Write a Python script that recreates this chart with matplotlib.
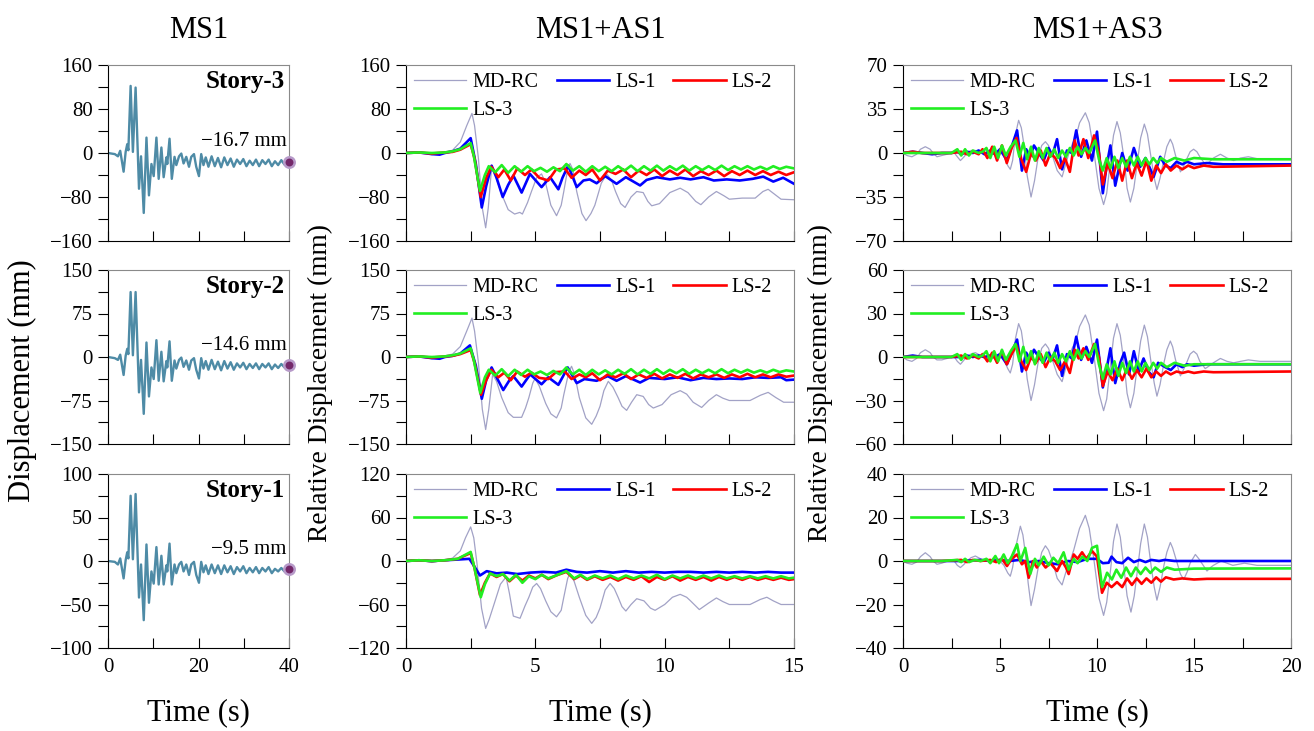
import matplotlib
matplotlib.use('Agg')
import matplotlib.pyplot as plt
from matplotlib.ticker import MultipleLocator

plt.rcParams['font.family'] = ['Liberation Serif', 'DejaVu Serif']

# ---------------- data (time [s], displacement [mm]) ----------------
ms1_s3 = [(0,0),(1.5,-2),(2.2,-6),(2.7,4),(3.45,-34),(3.9,2),(4.25,16),(4.5,5),(5.0,122),(5.5,2),(6.1,119),
          (6.85,-65),(7.3,-6),(7.9,-109),(8.5,28),(9.05,-77),(9.6,-20),(10.1,-42),(10.7,28),(11.2,-47),(11.8,10),
          (12.3,-44),(12.9,-8),(13.1,-20),(13.6,26),(14.1,-47),(14.7,-7),(15.1,-22),(15.7,-6),(16.2,-1),(16.7,-19),
          (17.3,-7),(17.9,-25),(18.4,-7),(19.0,-2),(19.5,-25),(20.1,-42),(20.6,-2),(21.1,-22),(21.6,-8),(22.2,-25),
          (22.9,-6),(23.6,-24),(24.3,-9),(25.0,-26),(25.7,-8),(26.4,-22),(27.1,-10),(27.8,-25),(28.5,-12),(29.2,-20),
          (29.9,-11),(30.6,-24),(31.3,-14),(32.0,-22),(32.7,-12),(33.4,-24),(34.1,-13),(34.8,-20),(35.5,-12),
          (36.2,-24),(36.9,-15),(37.6,-22),(38.3,-13),(39.0,-21),(39.5,-15),(40,-16.7)]
ms1_s2 = [(0,0),(1.5,-2),(2.2,-5),(2.7,4),(3.45,-31),(3.9,2),(4.25,14),(4.5,5),(5.0,112),(5.5,3),(6.1,112),
          (6.85,-61),(7.3,-5),(7.9,-98),(8.5,25),(9.05,-68),(9.6,-18),(10.1,-38),(10.7,29),(11.2,-41),(11.8,9),
          (12.3,-42),(12.9,-7),(13.1,-18),(13.6,27),(14.1,-41),(14.7,-6),(15.1,-20),(15.7,-5),(16.2,-1),(16.7,-17),
          (17.3,-6),(17.9,-22),(18.4,-6),(19.0,-2),(19.5,-22),(20.1,-37),(20.6,-2),(21.1,-20),(21.6,-7),(22.2,-22),
          (22.9,-5),(23.6,-21),(24.3,-8),(25.0,-23),(25.7,-7),(26.4,-20),(27.1,-9),(27.8,-22),(28.5,-11),(29.2,-18),
          (29.9,-10),(30.6,-21),(31.3,-12),(32.0,-19),(32.7,-11),(33.4,-21),(34.1,-12),(34.8,-18),(35.5,-11),
          (36.2,-21),(36.9,-13),(37.6,-19),(38.3,-12),(39.0,-18),(39.5,-13),(40,-14.6)]
ms1_s1 = [(0,0),(1.5,-1),(2.2,-4),(2.7,3),(3.45,-20),(3.9,1),(4.25,10),(4.5,3),(5.0,75),(5.5,2),(6.1,77),
          (6.85,-42),(7.3,-4),(7.9,-68),(8.5,19),(9.05,-48),(9.6,-12),(10.1,-26),(10.7,16),(11.2,-27),(11.8,6),
          (12.3,-27),(12.9,-5),(13.1,-12),(13.6,20),(14.1,-27),(14.7,-4),(15.1,-14),(15.7,-4),(16.2,-1),(16.7,-12),
          (17.3,-4),(17.9,-16),(18.4,-4),(19.0,-1),(19.5,-16),(20.1,-25),(20.6,-1),(21.1,-13),(21.6,-5),(22.2,-15),
          (22.9,-4),(23.6,-14),(24.3,-5),(25.0,-15),(25.7,-5),(26.4,-13),(27.1,-6),(27.8,-15),(28.5,-7),(29.2,-12),
          (29.9,-6),(30.6,-14),(31.3,-8),(32.0,-13),(32.7,-7),(33.4,-14),(34.1,-8),(34.8,-12),(35.5,-7),
          (36.2,-14),(36.9,-9),(37.6,-12),(38.3,-8),(39.0,-12),(39.5,-8),(40,-9.5)]

# MS1+AS1
mdrc_a1_s3 = [(0,0),(0.5,2),(1.0,-3),(1.5,2),(1.8,5),(2.1,20),(2.35,50),(2.55,72),(2.65,50),(2.8,-10),(2.95,-100),
              (3.08,-136),(3.18,-100),(3.31,-26),(3.45,-40),(3.7,-75),(3.95,-103),(4.2,-111),(4.4,-108),(4.5,-111),
              (4.7,-90),(4.85,-70),(5.05,-45),(5.24,-38),(5.4,-55),(5.6,-95),(5.82,-114),(6.0,-95),(6.1,-70),
              (6.25,-30),(6.34,-19),(6.45,-30),(6.6,-70),(6.8,-110),(6.96,-123),(7.15,-110),(7.3,-95),(7.55,-55),
              (7.76,-38),(7.95,-50),(8.1,-70),(8.3,-92),(8.47,-99),(8.7,-80),(8.92,-70),(9.17,-72),(9.35,-88),
              (9.5,-96),(9.8,-92),(10.2,-72),(10.6,-64),(10.9,-72),(11.2,-88),(11.4,-94),(11.7,-80),(12.0,-70),
              (12.3,-78),(12.5,-84),(13.0,-82),(13.5,-82),(13.8,-70),(14.0,-66),(14.25,-75),(14.5,-84),(15.0,-85)]
ls1_a1_s3 = [(0,0),(0.5,1),(1.0,-2),(1.3,-3),(1.5,0),(1.8,3),(2.1,8),(2.5,27),(2.7,-20),(2.93,-99),(3.1,-60),
             (3.31,-23),(3.5,-45),(3.74,-80),(3.95,-58),(4.15,-41),(4.47,-72),(4.79,-38),(5.24,-62),(5.57,-44),
             (5.89,-66),(6.05,-45),(6.27,-23),(6.6,-62),(6.86,-50),(7.1,-48),(7.37,-55),(7.7,-42),(8.14,-56),
             (8.5,-44),(9.05,-59),(9.3,-49),(9.7,-44),(10.2,-48),(10.6,-45),(11.0,-48),(11.5,-44),(11.9,-50),
             (12.4,-48),(12.9,-50),(13.4,-47),(13.81,-43),(14.2,-52),(14.58,-45),(15.0,-56)]
ls2_a1_s3 = [(0,0),(0.5,1),(1.0,-1),(1.5,1),(1.8,2),(2.1,6),(2.5,16),(2.65,-10),(2.89,-80),(3.1,-45),(3.3,-25),
             (3.57,-44),(3.8,-30),(4.05,-50),(4.3,-28),(4.6,-40),(4.85,-30),(5.15,-45),(5.5,-50),(5.8,-30),
             (6.14,-28),(6.4,-45),(6.7,-32),(6.95,-40),(7.2,-30),(7.5,-50),(7.8,-32),(8.1,-38),(8.4,-30),(8.7,-44),
             (9.0,-32),(9.3,-40),(9.6,-30),(9.9,-42),(10.2,-32),(10.5,-40),(10.8,-30),(11.1,-42),(11.4,-33),
             (11.7,-40),(12.0,-32),(12.3,-42),(12.6,-33),(12.9,-40),(13.2,-32),(13.5,-40),(13.8,-33),(14.1,-40),
             (14.4,-34),(14.7,-40),(15.0,-35)]
ls3_a1_s3 = [(0,0),(0.5,1),(1.0,0),(1.5,1),(1.8,3),(2.1,7),(2.5,18),(2.62,-5),(2.86,-69),(3.05,-40),(3.2,-24),
             (3.45,-35),(3.7,-22),(3.95,-36),(4.2,-24),(4.45,-34),(4.7,-24),(4.95,-33),(5.2,-27),(5.45,-34),
             (5.7,-26),(5.95,-33),(6.2,-20),(6.45,-32),(6.7,-24),(6.95,-34),(7.2,-24),(7.45,-33),(7.7,-25),
             (7.95,-33),(8.2,-24),(8.45,-32),(8.7,-23),(8.95,-33),(9.2,-24),(9.45,-32),(9.7,-23),(9.95,-32),
             (10.2,-24),(10.45,-31),(10.7,-23),(10.95,-32),(11.2,-24),(11.45,-31),(11.7,-24),(11.95,-31),
             (12.2,-23),(12.45,-31),(12.7,-24),(12.95,-30),(13.2,-24),(13.45,-30),(13.7,-25),(13.95,-30),
             (14.2,-24),(14.45,-29),(14.7,-25),(15.0,-28)]

mdrc_a1_s2 = [(0,0),(0.5,1),(1.0,-3),(1.5,2),(1.8,5),(2.1,18),(2.35,45),(2.55,67),(2.65,45),(2.8,-10),(2.95,-90),
              (3.08,-125),(3.2,-90),(3.35,-30),(3.5,-42),(3.7,-70),(3.95,-96),(4.15,-104),(4.47,-104),(4.62,-88),
              (4.75,-70),(4.9,-45),(4.99,-37),(5.15,-50),(5.4,-80),(5.6,-98),(5.82,-105),(6.0,-88),(6.1,-65),
              (6.3,-25),(6.4,-16),(6.52,-30),(6.7,-70),(6.95,-105),(7.18,-116),(7.35,-102),(7.5,-85),(7.65,-58),
              (7.82,-42),(8.0,-52),(8.2,-70),(8.35,-85),(8.53,-92),(8.72,-78),(8.92,-65),(9.17,-68),(9.38,-82),
              (9.56,-88),(9.9,-82),(10.25,-65),(10.6,-58),(10.85,-64),(11.1,-78),(11.43,-87),(11.7,-75),(12.0,-65),
              (12.25,-71),(12.5,-75),(13.3,-75),(13.7,-66),(14.0,-61),(14.3,-70),(14.6,-78),(15.0,-78)]
ls1_a1_s2 = [(0,0),(0.5,1),(1.0,-2),(1.3,-3),(1.5,0),(1.8,2),(2.1,6),(2.47,20),(2.7,-15),(2.93,-72),(3.1,-40),
             (3.31,-18),(3.5,-35),(3.76,-57),(4.0,-40),(4.15,-33),(4.47,-51),(4.8,-30),(5.24,-47),(5.5,-35),
             (5.89,-48),(6.05,-35),(6.25,-18),(6.6,-45),(6.9,-38),(7.37,-41),(7.8,-33),(8.14,-41),(8.5,-33),
             (9.05,-44),(9.4,-36),(10.0,-38),(10.5,-35),(11.0,-40),(11.5,-36),(12.0,-38),(12.5,-37),(13.0,-38),
             (13.5,-35),(14.0,-36),(14.5,-35),(14.7,-40),(15.0,-39)]
ls2_a1_s2 = [(0,0),(0.5,1),(1.0,-1),(1.5,1),(1.8,2),(2.1,5),(2.5,12),(2.65,-10),(2.9,-65),(3.1,-40),(3.3,-22),
             (3.57,-35),(3.8,-27),(4.05,-40),(4.3,-25),(4.6,-34),(4.85,-27),(5.15,-36),(5.5,-38),(5.8,-26),
             (6.14,-25),(6.4,-38),(6.7,-30),(6.95,-35),(7.2,-28),(7.5,-40),(7.8,-30),(8.1,-35),(8.4,-28),(8.7,-38),
             (9.0,-30),(9.3,-36),(9.6,-29),(9.9,-37),(10.2,-30),(10.5,-36),(10.8,-29),(11.1,-37),(11.4,-30),
             (11.7,-35),(12.0,-30),(12.3,-36),(12.6,-30),(12.9,-35),(13.2,-29),(13.5,-35),(13.8,-30),(14.1,-35),
             (14.4,-30),(14.7,-34),(15.0,-32)]
ls3_a1_s2 = [(0,0),(0.5,1),(1.0,0),(1.5,1),(1.8,3),(2.1,6),(2.5,15),(2.62,-5),(2.87,-62),(3.05,-35),(3.2,-22),
             (3.45,-32),(3.7,-21),(3.95,-33),(4.2,-22),(4.45,-31),(4.7,-22),(4.95,-30),(5.2,-25),(5.45,-31),
             (5.7,-24),(5.95,-30),(6.2,-18),(6.45,-30),(6.7,-22),(6.95,-31),(7.2,-22),(7.45,-30),(7.7,-23),
             (7.95,-30),(8.2,-22),(8.45,-29),(8.7,-21),(8.95,-30),(9.2,-22),(9.45,-29),(9.7,-21),(9.95,-29),
             (10.2,-22),(10.45,-28),(10.7,-21),(10.95,-29),(11.2,-22),(11.45,-28),(11.7,-22),(11.95,-28),
             (12.2,-21),(12.45,-28),(12.7,-22),(12.95,-27),(13.2,-22),(13.45,-27),(13.7,-23),(13.95,-27),
             (14.2,-22),(14.45,-26),(14.7,-23),(15.0,-25)]

mdrc_a1_s1 = [(0,0),(0.5,1),(1.0,-2),(1.5,1),(1.8,4),(2.1,14),(2.3,32),(2.5,47),(2.62,32),(2.75,-5),(2.92,-65),
              (3.08,-93),(3.22,-80),(3.4,-60),(3.65,-32),(3.87,-22),(4.0,-45),(4.15,-76),(4.41,-79),(4.6,-62),
              (4.75,-50),(4.9,-36),(5.05,-31),(5.2,-38),(5.4,-55),(5.6,-70),(5.82,-77),(6.0,-68),(6.1,-50),
              (6.25,-24),(6.34,-17),(6.5,-28),(6.7,-50),(6.95,-75),(7.18,-86),(7.35,-78),(7.5,-65),(7.7,-40),
              (7.89,-31),(8.05,-38),(8.2,-50),(8.35,-63),(8.5,-69),(8.7,-60),(8.92,-52),(9.2,-55),(9.45,-65),
              (9.63,-68),(10.0,-60),(10.3,-50),(10.6,-46),(10.85,-50),(11.0,-55),(11.34,-67),(11.7,-58),(12.0,-51),
              (12.25,-56),(12.5,-60),(13.3,-60),(13.7,-53),(13.95,-50),(14.2,-55),(14.5,-60),(15.0,-60)]
ls1_a1_s1 = [(0,0),(0.5,1),(1.0,0),(1.5,1),(2.0,2),(2.45,3),(2.65,-8),(2.86,-20),(3.12,-14),(3.5,-17),(3.9,-16),
             (4.3,-18),(4.8,-16),(5.3,-15),(5.8,-16),(6.2,-12),(6.6,-15),(7.0,-16),(7.5,-14),(8.0,-16),(8.5,-14),
             (9.0,-16),(9.5,-15),(10.0,-16),(10.5,-15),(11.0,-15),(11.5,-16),(12.0,-15),(12.5,-16),(13.0,-15),
             (13.5,-16),(14.0,-15),(14.5,-16),(15.0,-16)]
ls2_a1_s1 = [(0,0),(0.5,1),(1.0,0),(1.5,1),(2.0,3),(2.5,11),(2.65,-10),(2.86,-47),(3.05,-30),(3.25,-17),(3.5,-22),
             (3.75,-18),(4.0,-28),(4.25,-20),(4.5,-27),(4.75,-20),(5.0,-24),(5.25,-19),(5.5,-25),(5.8,-20),
             (6.2,-15),(6.5,-25),(6.75,-20),(7.0,-26),(7.3,-21),(7.6,-26),(7.9,-22),(8.2,-27),(8.5,-22),(8.8,-26),
             (9.1,-21),(9.4,-29),(9.7,-22),(10.0,-26),(10.3,-21),(10.6,-27),(10.9,-22),(11.2,-26),(11.5,-22),
             (11.8,-27),(12.1,-22),(12.4,-26),(12.7,-22),(13.0,-26),(13.3,-22),(13.6,-26),(13.9,-23),(14.2,-26),
             (14.5,-23),(14.8,-26),(15.0,-25)]
ls3_a1_s1 = [(0,0),(0.5,1),(1.0,0),(1.5,1),(2.0,3),(2.5,12.5),(2.65,-10),(2.89,-50),(3.05,-32),(3.25,-17),
             (3.5,-21),(3.75,-18),(4.0,-27),(4.25,-19),(4.5,-30),(4.75,-21),(5.0,-25),(5.25,-19),(5.5,-24),
             (5.8,-20),(6.2,-14),(6.5,-24),(6.75,-19),(7.0,-25),(7.3,-20),(7.6,-24),(7.9,-20),(8.2,-25),(8.5,-20),
             (8.8,-24),(9.1,-20),(9.4,-24),(9.7,-19),(10.0,-25),(10.3,-20),(10.6,-24),(10.9,-20),(11.2,-24),
             (11.5,-20),(11.8,-24),(12.1,-20),(12.4,-24),(12.7,-21),(13.0,-24),(13.3,-21),(13.6,-24),(13.9,-21),
             (14.2,-24),(14.5,-21),(14.8,-24),(15.0,-23)]

# MS1+AS3
mdrc_a3_s3 = [(0,0),(0.2,-2),(0.46,-3),(0.7,-1),(0.9,3),(1.15,5),(1.4,3),(1.55,0),(1.75,-3),(2.0,-2),(2.27,-1),
              (2.6,1),(2.8,-3),(2.96,-6),(3.15,-3),(3.3,0),(3.5,2),(3.73,2),(4.0,0.5),(4.2,-1),(4.67,-1),(5.0,1),
              (5.2,-2),(5.4,-10),(5.53,-13),(5.65,-6),(5.8,15),(5.96,26),(6.1,20),(6.25,5),(6.4,-18),(6.6,-35),
              (6.78,-22),(6.95,-5),(7.15,6),(7.34,9),(7.5,6),(7.7,-2),(7.95,-14),(8.2,-19),(8.4,-8),(8.6,2),
              (8.75,8),(8.9,12),(9.1,24),(9.4,32),(9.6,24),(9.85,0),(10.1,-28),(10.34,-41),(10.5,-32),(10.7,-5),
              (10.85,14),(11.03,25),(11.2,16),(11.4,-5),(11.55,-28),(11.72,-39),(11.9,-28),(12.1,-5),(12.25,12),
              (12.44,23),(12.6,15),(12.8,-5),(12.95,-20),(13.09,-29),(13.25,-20),(13.45,-5),(13.6,5),(13.78,11),
              (13.9,7),(14.05,-2),(14.3,-15),(14.45,-11),(14.65,-4),(14.8,1),(14.98,3),(15.15,1),(15.3,-3),
              (15.58,-9),(15.8,-7),(16.0,-4),(16.36,-1),(16.7,-4),(17.04,-6),(17.4,-4),(17.8,-3),(18.4,-5),(20.0,-5)]
ls1_a3_s3 = [(0,0),(0.5,1),(1.0,0),(1.5,-1),(2.0,0),(2.5,0),(2.8,1),(3.0,-1),(3.3,1),(3.6,0),(3.9,2),(4.2,-1),
             (4.5,2),(4.75,-1),(5.0,3),(5.36,-6),(5.6,5),(5.88,18),(6.13,-14),(6.35,3),(6.55,-3),(6.75,6),(7.0,0),
             (7.25,-6),(7.5,4),(7.7,-2),(7.94,11),(8.2,-13),(8.45,2),(8.7,0),(8.93,18),(9.18,-3),(9.45,10),
             (9.74,-6),(10.0,17),(10.3,-32),(10.5,-10),(10.69,6),(10.94,-26),(11.3,0),(11.58,-14),(11.9,4),
             (12.23,-11),(12.5,-4),(12.92,-19),(13.26,-3),(13.52,-10),(13.8,-12),(14.1,-7),(14.4,-9),(14.64,-7),
             (15.0,-9),(15.67,-8),(16.5,-9),(20.0,-9)]
ls2_a3_s3 = [(0,0),(0.5,1),(1.0,0),(1.5,0),(2.0,0),(2.5,0),(3.0,1),(3.3,-1),(3.6,1),(3.9,-1),(4.1,3),(4.35,-4),
             (4.6,5),(4.85,-6),(5.1,6),(5.35,-8),(5.6,4),(5.85,12),(6.1,-5),(6.35,-15),(6.6,0),(6.85,-6),(7.1,2),
             (7.35,-10),(7.6,0),(7.85,-4),(8.1,-12),(8.35,-4),(8.6,-15),(8.85,10),(9.05,-2),(9.3,11),(9.55,-4),
             (9.85,14),(10.1,0),(10.3,-25),(10.55,-8),(10.8,-20),(11.05,-6),(11.3,-22),(11.55,-6),(11.8,-20),
             (12.05,-8),(12.3,-18),(12.55,-6),(12.8,-22),(13.05,-10),(13.3,-16),(13.55,-9),(13.8,-14),(14.1,-10),
             (14.4,-13),(14.7,-10),(15.0,-12),(15.5,-10),(16.0,-11),(20.0,-10)]
ls3_a3_s3 = [(0,0),(0.5,0),(1.0,0),(1.5,0),(2.0,0),(2.5,0),(2.8,3),(3.0,-2),(3.2,3),(3.4,-2),(3.6,2),(3.9,0),
             (4.1,1),(4.3,4),(4.5,-4),(4.7,5),(4.9,-4),(5.1,6),(5.3,-2),(5.55,5),(5.8,10),(6.0,-3),(6.2,8),
             (6.4,-5),(6.6,5),(6.8,-6),(7.0,4),(7.2,-4),(7.4,4),(7.6,-3),(7.8,3),(8.0,-4),(8.2,2),(8.4,-3),
             (8.6,4),(8.8,-2),(9.0,5),(9.2,-1),(9.4,4),(9.6,0),(9.9,10),(10.1,-5),(10.3,-14),(10.5,-4),(10.7,-12),
             (10.9,-3),(11.1,-12),(11.3,-4),(11.5,-11),(11.7,-3),(11.9,-10),(12.1,-3),(12.3,-10),(12.5,-4),
             (12.7,-9),(12.9,-4),(13.1,-8),(13.3,-4),(13.6,-7),(14.0,-4),(14.5,-6),(15.0,-4),(16.0,-5),(20.0,-5)]

mdrc_a3_s2 = [(0,0),(0.2,-2),(0.46,-3),(0.7,-1),(0.9,3),(1.15,5),(1.4,3),(1.55,0),(1.75,-2),(2.0,-2),(2.27,-1),
              (2.6,1),(2.8,-3),(2.96,-5),(3.15,-2),(3.3,0),(3.5,2),(3.73,3),(4.0,1),(4.2,-1),(4.67,-1),(5.0,1),
              (5.2,-2),(5.4,-8),(5.53,-11),(5.65,-5),(5.8,13),(5.96,23),(6.1,18),(6.25,4),(6.4,-15),(6.6,-30),
              (6.78,-19),(6.95,-5),(7.15,6),(7.34,9),(7.5,6),(7.7,-2),(7.95,-12),(8.2,-17),(8.4,-7),(8.6,2),
              (8.75,7),(8.9,10),(9.1,21),(9.4,29),(9.6,22),(9.85,0),(10.1,-25),(10.34,-37),(10.5,-29),(10.7,-5),
              (10.85,13),(11.03,23),(11.2,15),(11.4,-5),(11.55,-25),(11.72,-35),(11.9,-25),(12.1,-4),(12.25,11),
              (12.44,22),(12.6,14),(12.8,-5),(12.95,-18),(13.09,-27),(13.25,-19),(13.45,-4),(13.6,5),(13.78,11),
              (13.9,7),(14.05,-2),(14.3,-13),(14.45,-9),(14.65,-3),(14.8,2),(14.98,4),(15.15,2),(15.3,-3),
              (15.58,-8),(15.8,-6),(16.0,-4),(16.36,-1),(16.7,-3),(17.04,-4),(17.4,-3),(17.8,-2),(18.4,-3),(20.0,-3)]
ls1_a3_s2 = [(0,0),(0.5,1),(1.0,0),(1.5,0),(2.0,0),(2.5,0),(3.0,0),(3.3,1),(3.6,0),(3.9,1),(4.2,0),(4.5,1),
             (4.75,0),(5.0,2),(5.36,-5),(5.6,3),(5.88,12),(6.13,-10),(6.35,3),(6.55,-2),(6.75,5),(7.0,0),
             (7.25,-4),(7.5,3),(7.7,-2),(7.94,8),(8.2,-13),(8.45,2),(8.7,-1),(8.93,14),(9.18,-2),(9.45,7),
             (9.74,-4),(10.0,12),(10.3,-21),(10.5,-8),(10.69,6),(10.94,-18),(11.2,-4),(11.4,3),(11.65,-12),
             (11.9,4),(12.15,-10),(12.4,-1),(12.65,-10),(12.92,-14),(13.15,-4),(13.52,-7),(13.8,-9),(14.1,-5),
             (14.4,-7),(14.64,-5),(15.0,-6),(15.67,-5),(16.5,-5),(20.0,-5)]
ls2_a3_s2 = [(0,0),(0.5,0),(1.0,0),(1.5,0),(2.0,0),(2.5,0),(3.0,1),(3.3,-1),(3.6,1),(3.9,-1),(4.1,2),(4.35,-3),
             (4.6,3),(4.85,-4),(5.1,4),(5.35,-5),(5.6,2),(5.85,8),(6.1,-3),(6.35,-9),(6.6,0),(6.85,-4),(7.1,2),
             (7.35,-7),(7.6,0),(7.85,-3),(8.1,-9),(8.35,-3),(8.6,-11),(8.85,5),(9.05,-1),(9.3,6),(9.55,-2),
             (9.85,9),(10.1,0),(10.3,-20),(10.55,-10),(10.8,-16),(11.05,-8),(11.3,-16),(11.55,-8),(11.8,-15),
             (12.05,-9),(12.3,-14),(12.55,-8),(12.8,-14),(13.05,-10),(13.3,-13),(13.55,-10),(13.8,-12),(14.1,-10),
             (14.4,-11),(14.7,-10),(15.0,-11),(15.5,-10),(16.0,-10.5),(20.0,-10)]
ls3_a3_s2 = [(0,0),(0.5,0),(1.0,0),(1.5,0),(2.0,0),(2.5,0),(2.8,2),(3.0,-2),(3.2,2),(3.4,-1),(3.6,2),(3.9,0),
             (4.1,1),(4.3,4),(4.5,-3),(4.7,4),(4.9,-3),(5.1,5),(5.3,-2),(5.55,4),(5.8,9),(6.0,-3),(6.2,7),
             (6.4,-4),(6.6,4),(6.8,-5),(7.0,4),(7.2,-4),(7.4,3),(7.6,-3),(7.8,3),(8.0,-4),(8.2,2),(8.4,-3),
             (8.6,4),(8.8,-2),(9.0,5),(9.2,-1),(9.4,4),(9.6,0),(9.9,9),(10.1,-5),(10.3,-15),(10.5,-5),(10.7,-12),
             (10.9,-3),(11.1,-13),(11.3,-4),(11.5,-11),(11.7,-3),(11.9,-10),(12.1,-3),(12.3,-10),(12.5,-4),
             (12.7,-9),(12.9,-4),(13.1,-8),(13.3,-4),(13.6,-7),(14.0,-4),(14.5,-6),(15.0,-5),(16.0,-5),(20.0,-5)]

mdrc_a3_s1 = [(0,0),(0.2,-1),(0.46,-1.5),(0.7,-0.5),(0.9,2),(1.15,3.8),(1.4,2),(1.55,0),(1.75,-1.5),(2.0,-1),
              (2.3,0),(2.6,0.5),(2.8,-2),(2.96,-3),(3.15,-1.5),(3.3,0),(3.5,1.5),(3.73,2.3),(4.0,1),(4.2,0),
              (4.67,0.5),(5.0,0),(5.2,-2),(5.4,-5.5),(5.53,-7),(5.65,-3),(5.8,6),(6.05,16),(6.18,12),(6.3,4),
              (6.45,-10),(6.6,-20.5),(6.78,-13),(6.95,-4),(7.15,4),(7.34,7),(7.5,5),(7.7,0),(7.95,-8),(8.2,-11),
              (8.4,-5),(8.5,-3),(8.8,5),(9.1,15),(9.4,21),(9.6,15),(9.85,0),(10.1,-17),(10.34,-25),(10.5,-19),
              (10.7,-4),(10.85,9),(11.03,17),(11.2,11),(11.4,-4),(11.55,-16),(11.75,-23.5),(11.92,-16),(12.1,-3),
              (12.25,8),(12.44,17),(12.6,11),(12.8,-3),(12.95,-12),(13.09,-18),(13.25,-12),(13.45,-2),(13.6,4),
              (13.78,8.5),(13.9,6),(14.1,0),(14.3,-6),(14.47,-8.5),(14.65,-5),(14.8,-1),(15.07,3),(15.25,1),
              (15.4,-1),(15.67,-4.6),(15.85,-3),(16.0,-2),(16.4,0),(17.0,-2),(17.6,-1),(18.25,-2),(20.0,-2)]
ls1_a3_s1 = [(0,0),(1.0,0),(2.0,0),(3.0,0),(4.0,0.5),(4.5,0),(5.0,0.5),(5.5,0),(6.0,0.5),(6.5,-0.5),(7.0,0),
             (7.5,-1),(8.0,-1.5),(8.5,0),(9.0,-0.5),(9.5,1),(10.0,1),(10.3,-1),(10.6,-0.8),(10.75,2),(11.0,-0.5),
             (11.3,-1),(11.6,1.5),(11.9,-0.5),(12.2,0.5),(12.5,-0.5),(12.8,0.5),(13.2,0),(13.5,0.5),(14.0,0),
             (15.0,0),(16.0,0),(20.0,0)]
ls2_a3_s1 = [(0,0),(1.0,0),(2.0,0),(3.0,0.5),(3.3,-0.5),(3.6,0.5),(4.0,0),(4.5,0.5),(4.8,-0.5),(5.1,1),
             (5.36,-2.3),(5.6,1),(5.88,3),(6.13,-1.5),(6.3,0),(6.48,-7.7),(6.7,0),(6.9,-3),(7.1,0),(7.35,-3),
             (7.6,-1),(7.94,-4.6),(8.2,0),(8.4,-3),(8.54,-6),(8.8,3),(9.0,1),(9.23,4),(9.45,1),(9.74,4.6),(10.0,2),
             (10.26,-14.6),(10.5,-10),(10.75,-12),(11.03,-9.7),(11.3,-12),(11.55,-8),(11.8,-11),(12.05,-8),
             (12.3,-10.5),(12.55,-8),(12.8,-10),(13.05,-7.5),(13.3,-9.5),(13.55,-7.5),(13.95,-8.5),(14.4,-8),
             (15.0,-8.5),(15.67,-8.2),(20.0,-8.2)]
ls3_a3_s1 = [(0,0),(1.0,0),(2.0,0),(2.8,0.5),(3.0,-0.5),(3.2,1),(3.4,-0.5),(3.7,0.5),(4.0,0),(4.3,1),(4.5,-1),
             (4.76,2.3),(4.95,-1),(5.19,3),(5.4,-1),(5.6,2),(5.88,7.7),(6.05,0),(6.3,6),(6.56,-6),(6.8,1),(7.0,-2),
             (7.25,2),(7.5,-2),(7.75,1.5),(8.0,-1),(8.28,4),(8.54,-4),(8.8,1),(9.0,-1),(9.25,2),(9.5,0),(9.74,6),
             (10.0,7),(10.26,-12),(10.52,-5.4),(10.77,-8.5),(11.0,-4),(11.25,-7.7),(11.5,-3),(11.75,-7),(12.0,-3),
             (12.25,-6),(12.5,-3),(12.75,-5.5),(13.0,-3),(13.3,-5),(13.6,-3),(14.0,-4),(15.0,-3.5),(20.0,-3.4)]

col_titles = ['MS1', 'MS1+AS1', 'MS1+AS3']
story_labels = ['Story-3', 'Story-2', 'Story-1']
ms1_series = [ms1_s3, ms1_s2, ms1_s1]
ms1_final = [-16.7, -14.6, -9.5]
as1_series = [[mdrc_a1_s3, ls1_a1_s3, ls2_a1_s3, ls3_a1_s3],
              [mdrc_a1_s2, ls1_a1_s2, ls2_a1_s2, ls3_a1_s2],
              [mdrc_a1_s1, ls1_a1_s1, ls2_a1_s1, ls3_a1_s1]]
as3_series = [[mdrc_a3_s3, ls1_a3_s3, ls2_a3_s3, ls3_a3_s3],
              [mdrc_a3_s2, ls1_a3_s2, ls2_a3_s2, ls3_a3_s2],
              [mdrc_a3_s1, ls1_a3_s1, ls2_a3_s1, ls3_a3_s1]]
series_names = ['MD-RC', 'LS-1', 'LS-2', 'LS-3']
ms1_ylims = [160, 150, 100]
as1_ylims = [160, 150, 120]
as3_ylims = [70, 60, 40]
xmax = [40, 15, 20]
xmajor = [20, 5, 5]
xminor = [10, 2.5, 2.5]

# ---------------- styling ----------------
W, H = 1314, 731
fig = plt.figure(figsize=(W / 100, H / 100), dpi=100)
col_px = [(108, 289), (406, 794), (903, 1291)]
row_px = [(65, 241), (270, 444), (474, 648)]
colors = ['#A2A2C6', '#0000FF', '#FF0000', '#22EE22']
lws = [0.9, 1.9, 1.9, 1.9]
tick_fs = 15
TEAL = '#4E8BA6'

axes = [[None] * 3 for _ in range(3)]
for r in range(3):
    for c in range(3):
        x0, x1 = col_px[c]
        y0, y1 = row_px[r]
        ax = fig.add_axes([x0 / W, 1 - y1 / H, (x1 - x0) / W, (y1 - y0) / H])
        axes[r][c] = ax

for r in range(3):
    for c in range(3):
        ax = axes[r][c]
        ylim = [ms1_ylims, as1_ylims, as3_ylims][c][r]
        ax.set_xlim(0, xmax[c])
        ax.set_ylim(-ylim, ylim)
        ax.yaxis.set_major_locator(MultipleLocator(ylim / 2))
        ax.yaxis.set_minor_locator(MultipleLocator(ylim / 4))
        ax.xaxis.set_major_locator(MultipleLocator(xmajor[c]))
        ax.xaxis.set_minor_locator(MultipleLocator(xminor[c]))
        ax.tick_params(axis='y', which='both', direction='out', length=7, width=0.8,
                       labelsize=tick_fs, pad=4)
        ax.tick_params(axis='x', which='both', direction='in', length=7, width=0.8,
                       labelsize=tick_fs, pad=7)
        for s in ['top', 'right']:
            ax.spines[s].set_color('#8A8A8A')
        for s in ['left', 'bottom']:
            ax.spines[s].set_color('black')
        if r < 2:
            ax.tick_params(axis='x', labelbottom=False)
        ax.yaxis.set_major_formatter(plt.FuncFormatter(lambda v, p: f'{v:g}'.replace('-', '\u2212')))

        if c == 0:
            data = ms1_series[r]
            ax.plot([p[0] for p in data], [p[1] for p in data], color=TEAL, lw=1.7)
            ax.plot([40], [ms1_final[r]], 'o', ms=7.5, mfc='#74286A', mec='#B79AC9', mew=1.8,
                    clip_on=False, zorder=5)
            ax.text(0.985, 0.565, f'{ms1_final[r]:.1f} mm'.replace('-', '\u2212'),
                    transform=ax.transAxes, ha='right', va='center', fontsize=15)
            ax.text(0.975, 0.905, story_labels[r], transform=ax.transAxes, ha='right',
                    va='center', fontsize=18, fontweight='bold')
        else:
            group = [as1_series, as3_series][c - 1][r]
            handles = []
            for k, data in enumerate(group):
                h, = ax.plot([p[0] for p in data], [p[1] for p in data], color=colors[k],
                             lw=lws[k], label=series_names[k], zorder=2 + k)
                handles.append(h)
            order = [0, 3, 1, 2]
            ax.legend([handles[i] for i in order], [series_names[i] for i in order],
                      ncol=3, loc='upper left', frameon=False, fontsize=14.5,
                      handlelength=2.6, handletextpad=0.3, columnspacing=0.9,
                      labelspacing=0.45, borderpad=0.2, borderaxespad=0.2,
                      bbox_to_anchor=(0.0, 1.0))

# titles and labels
for c in range(3):
    xc = (col_px[c][0] + col_px[c][1]) / 2 / W
    fig.text(xc, 1 - 30 / H, col_titles[c], ha='center', va='center', fontsize=22)
    fig.text(xc, 1 - 713 / H, 'Time (s)', ha='center', va='center', fontsize=22)

fig.text(22 / W, 1 - 381 / H, 'Displacement (mm)', rotation=90, ha='center', va='center', fontsize=22)
fig.text(320 / W, 1 - 383 / H, 'Relative Displacement (mm)', rotation=90, ha='center', va='center', fontsize=19.8)
fig.text(820 / W, 1 - 383 / H, 'Relative Displacement (mm)', rotation=90, ha='center', va='center', fontsize=19.8)

fig.savefig('out.png', dpi=100, facecolor='white')
